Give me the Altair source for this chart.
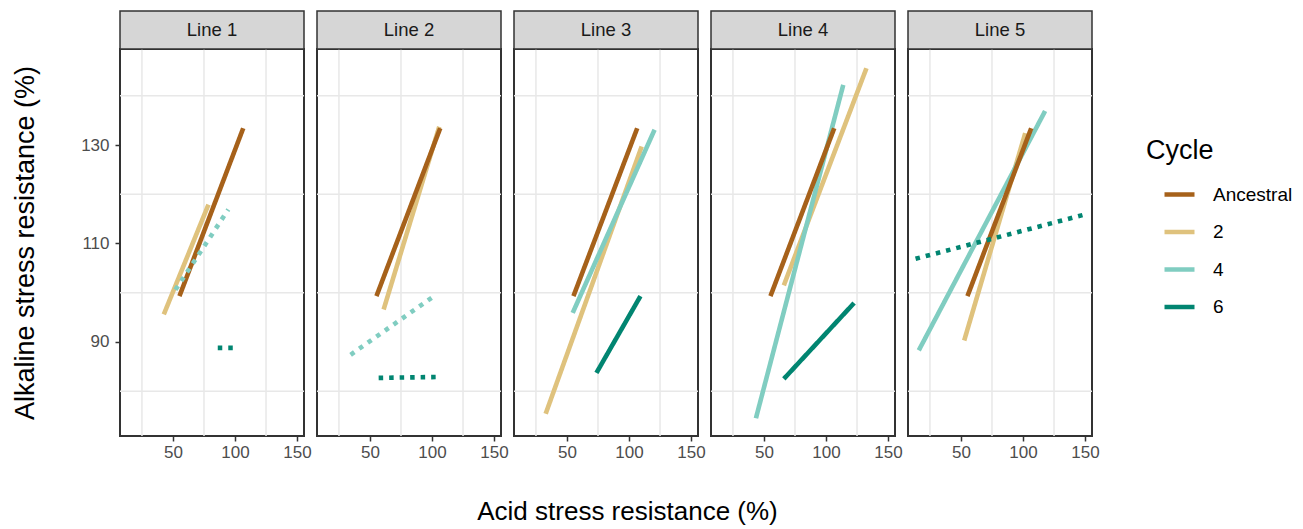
import altair as alt
import pandas as pd

# ---------------- data ----------------
lines = ["Line 1", "Line 2", "Line 3", "Line 4", "Line 5"]
cycles = ["Ancestral", "2", "4", "6"]
cycle_colors = ["#A6611A", "#DFC27D", "#80CDC1", "#018571"]

# Ancestral reference segment (same in every panel): x0, y0, x1, y1
anc_x0, anc_y0, anc_x1, anc_y1 = 55.2, 99.3, 106.6, 133.4

c2_x0 = [42.6, 61.0, 32.8, 66.0, 52.6]
c2_y0 = [95.6, 96.6, 75.4, 101.5, 90.3]
c2_x1 = [78.6, 105.8, 110.2, 132.6, 101.8]
c2_y1 = [117.9, 133.7, 129.7, 145.6, 132.4]
c2_dot = [False, False, False, False, False]

c4_x0 = [52.0, 34.4, 54.6, 43.5, 16.0]
c4_y0 = [100.6, 87.4, 95.9, 74.5, 88.3]
c4_x1 = [94.6, 103.2, 120.6, 113.9, 117.8]
c4_y1 = [116.9, 99.6, 133.1, 142.2, 136.9]
c4_dot = [True, True, False, False, False]

c6_x0 = [86.1, 57.0, 73.7, 66.0, 13.4]
c6_y0 = [88.8, 82.7, 83.7, 82.5, 106.9]
c6_x1 = [102.6, 107.7, 109.2, 122.6, 148.6]
c6_y1 = [88.8, 82.9, 99.3, 97.9, 115.8]
c6_dot = [True, True, False, False, True]

x_grid = [25, 75, 125]
y_grid = [80, 100, 120, 140]
x_ticks = [50, 100, 150]
y_ticks = [90, 110, 130]
x_domain = [7.3, 155.6]
y_domain = [70.9, 149.5]

# ---------------- build table ----------------
rows = []
draw_rank = {"2": 0, "4": 1, "Ancestral": 2, "6": 3}
for i, ln in enumerate(lines):
    rows.append(dict(Line=ln, Cycle="Ancestral", x0=anc_x0, y0=anc_y0, x1=anc_x1, y1=anc_y1, Sig="solid"))
    for cyc, X0, Y0, X1, Y1, D in [("2", c2_x0, c2_y0, c2_x1, c2_y1, c2_dot),
                                    ("4", c4_x0, c4_y0, c4_x1, c4_y1, c4_dot),
                                    ("6", c6_x0, c6_y0, c6_x1, c6_y1, c6_dot)]:
        rows.append(dict(Line=ln, Cycle=cyc, x0=X0[i], y0=Y0[i], x1=X1[i], y1=Y1[i],
                         Sig="dotted" if D[i] else "solid"))
df = pd.DataFrame(rows)
df["rank"] = df["Cycle"].map(draw_rank) + (df["Sig"] == "dotted") * 10
df = df.sort_values(["Line", "rank"]).reset_index(drop=True)

W, H = 184, 387
FONT = "Liberation Sans"

xscale = alt.Scale(domain=x_domain, nice=False, zero=False)
yscale = alt.Scale(domain=y_domain, nice=False, zero=False)


def xaxis(i):
    if i == 2:
        return alt.Axis(values=x_ticks, title="Acid stress resistance (%)", grid=False,
                        labelFlush=False, titleX=W / 2 + 21, titleY=62, titleBaseline="top",
                        titleAnchor="middle", titleAlign="center", titleFontSize=26)
    return alt.Axis(values=x_ticks, title=None, grid=False, labelFlush=False)


def yaxis(first):
    if first:
        return alt.Axis(values=y_ticks, title="Alkaline stress resistance (%)", grid=False,
                        titlePadding=41, labelPadding=6)
    return None


def panel(i, ln):
    ya = yaxis(i == 0)
    xa = xaxis(i)
    sub = df[df["Line"] == ln]
    gx = alt.Chart(pd.DataFrame({"gx": x_grid})).mark_rule(color="#E8E8E8", strokeWidth=1.5).encode(
        x=alt.X("gx:Q", scale=xscale, axis=xa))
    gy = alt.Chart(pd.DataFrame({"gy": y_grid})).mark_rule(color="#E8E8E8", strokeWidth=1.5).encode(
        y=alt.Y("gy:Q", scale=yscale, axis=ya))
    strip_data = pd.DataFrame({"Line": [ln]})
    strip = alt.Chart(strip_data).mark_rect(fill="#D6D6D6", stroke="#333333", strokeWidth=1.5).encode(
        x=alt.value(0), x2=alt.value(W), y=alt.value(-38), y2=alt.value(0))
    strip_txt = alt.Chart(strip_data).mark_text(font=FONT, fontSize=18.5, color="#1A1A1A",
                                                baseline="middle", align="center").encode(
        x=alt.value(W / 2), y=alt.value(-19), text="Line:N")
    seg = alt.Chart(sub).mark_rule(strokeWidth=4.6, strokeCap="butt").encode(
        x=alt.X("x0:Q", scale=xscale, axis=xa),
        x2="x1:Q",
        y=alt.Y("y0:Q", scale=yscale, axis=ya),
        y2="y1:Q",
        color=alt.Color("Cycle:N", scale=alt.Scale(domain=cycles, range=cycle_colors),
                        sort=cycles,
                        legend=alt.Legend(title="Cycle", orient="none", legendX=1026, legendY=89)),
        strokeDash=alt.StrokeDash("Sig:N", scale=alt.Scale(domain=["solid", "dotted"],
                                                           range=[[1, 0], [4.5, 6]]), legend=None),
    )
    return alt.layer(gx, gy, strip, strip_txt, seg).properties(width=W, height=H)


chart = alt.hconcat(*[panel(i, ln) for i, ln in enumerate(lines)], spacing=13,
                    bounds="flush").properties(
    padding={"left": 2, "top": 1, "right": 0, "bottom": 0},
).configure_view(stroke="#333333", strokeWidth=2).configure_axis(
    labelFont=FONT, labelFontSize=17, labelColor="#4D4D4D", tickColor="#333333", tickSize=5,
    tickWidth=1.5, domain=False, labelPadding=3, titleFont=FONT, titleFontSize=27,
    titleColor="black", titleFontWeight="normal",
).configure_legend(
    titleFont=FONT, titleFontSize=27, titleFontWeight="normal", titleColor="black",
    labelFont=FONT, labelFontSize=19, labelColor="black", symbolType="stroke",
    symbolSize=900, symbolStrokeWidth=4.5, symbolOffset=16, labelOffset=16, rowPadding=9.5,
    titlePadding=12, padding=0,
)

chart.save("out.html", embed_options={"renderer": "svg", "actions": False})
